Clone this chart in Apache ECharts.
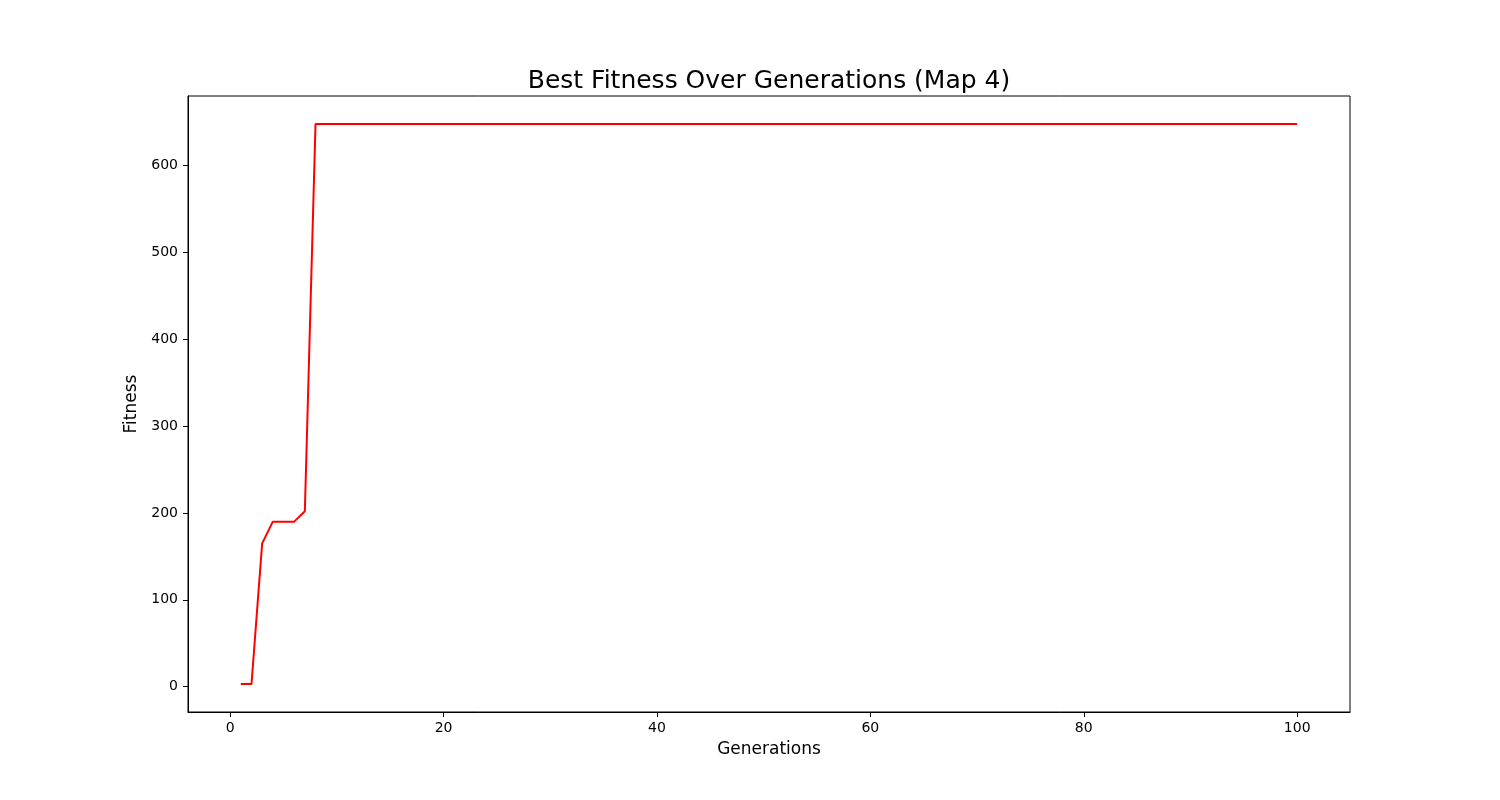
<!DOCTYPE html>
<head>
    <meta charset="utf-8">
    <title>Best Fitness</title>
    <script src="https://cdn.jsdelivr.net/npm/echarts@6/dist/echarts.min.js"></script>
    <style>
        body { margin: 0; background: #fff; }
        #chart { width: 1500px; height: 800px; }
    </style>
</head>
<body>
    <div id="chart"></div>
    <script>
        var generations = [
            1, 2, 3, 4, 5, 6, 7, 8, 9, 10, 11, 12, 13, 14, 15, 16, 17, 18, 19, 20,
            21, 22, 23, 24, 25, 26, 27, 28, 29, 30, 31, 32, 33, 34, 35, 36, 37, 38, 39, 40,
            41, 42, 43, 44, 45, 46, 47, 48, 49, 50, 51, 52, 53, 54, 55, 56, 57, 58, 59, 60,
            61, 62, 63, 64, 65, 66, 67, 68, 69, 70, 71, 72, 73, 74, 75, 76, 77, 78, 79, 80,
            81, 82, 83, 84, 85, 86, 87, 88, 89, 90, 91, 92, 93, 94, 95, 96, 97, 98, 99, 100
        ];
        var fitness = [
            3, 3, 165, 190, 190, 190, 202, 648, 648, 648, 648, 648, 648, 648, 648, 648, 648, 648, 648, 648,
            648, 648, 648, 648, 648, 648, 648, 648, 648, 648, 648, 648, 648, 648, 648, 648, 648, 648, 648, 648,
            648, 648, 648, 648, 648, 648, 648, 648, 648, 648, 648, 648, 648, 648, 648, 648, 648, 648, 648, 648,
            648, 648, 648, 648, 648, 648, 648, 648, 648, 648, 648, 648, 648, 648, 648, 648, 648, 648, 648, 648,
            648, 648, 648, 648, 648, 648, 648, 648, 648, 648, 648, 648, 648, 648, 648, 648, 648, 648, 648, 648
        ];

        var font = 'DejaVu Sans';
        var points = generations.map(function(g, i) { return [g, fitness[i]]; });

        var chart = echarts.init(document.getElementById('chart'));
        chart.setOption({
            animation: false,
            backgroundColor: '#fff',
            title: {
                text: 'Best Fitness Over Generations (Map 4)',
                left: 764,
                textAlign: 'center',
                top: 64,
                textStyle: { fontFamily: font, fontSize: 25, fontWeight: 'normal', color: '#000' }
            },
            grid: {
                left: 188, right: 150, top: 96, bottom: 88,
                show: true, borderColor: '#000', borderWidth: 1
            },
            xAxis: {
                type: 'value',
                min: -3.95, max: 104.95,
                minInterval: 20, maxInterval: 20,
                name: 'Generations',
                nameLocation: 'middle',
                nameGap: 29,
                nameTextStyle: { fontFamily: font, fontSize: 17, color: '#000' },
                axisLine: { show: true, onZero: false, lineStyle: { color: '#000' } },
                axisTick: { show: true, length: 5, lineStyle: { color: '#000' } },
                axisLabel: {
                    fontFamily: font, fontSize: 14, color: '#000', margin: 9,
                    showMinLabel: false, showMaxLabel: false,
                    formatter: function(v) { return v % 20 === 0 ? String(v) : ''; }
                },
                splitLine: { show: false }
            },
            yAxis: {
                type: 'value',
                min: -29.25, max: 680.25,
                minInterval: 100, maxInterval: 100,
                name: 'Fitness',
                nameLocation: 'middle',
                nameGap: 45,
                nameTextStyle: { fontFamily: font, fontSize: 17, color: '#000' },
                axisLine: { show: true, onZero: false, lineStyle: { color: '#000' } },
                axisTick: { show: true, length: 5, lineStyle: { color: '#000' } },
                axisLabel: {
                    fontFamily: font, fontSize: 14, color: '#000', margin: 10,
                    showMinLabel: false, showMaxLabel: false,
                    formatter: function(v) { return v % 100 === 0 ? String(v) : ''; }
                },
                splitLine: { show: false }
            },
            series: [{
                type: 'line',
                data: points,
                showSymbol: false,
                symbol: 'none',
                lineStyle: { color: '#ff0000', width: 2 }
            }]
        });
    </script>
</body>
